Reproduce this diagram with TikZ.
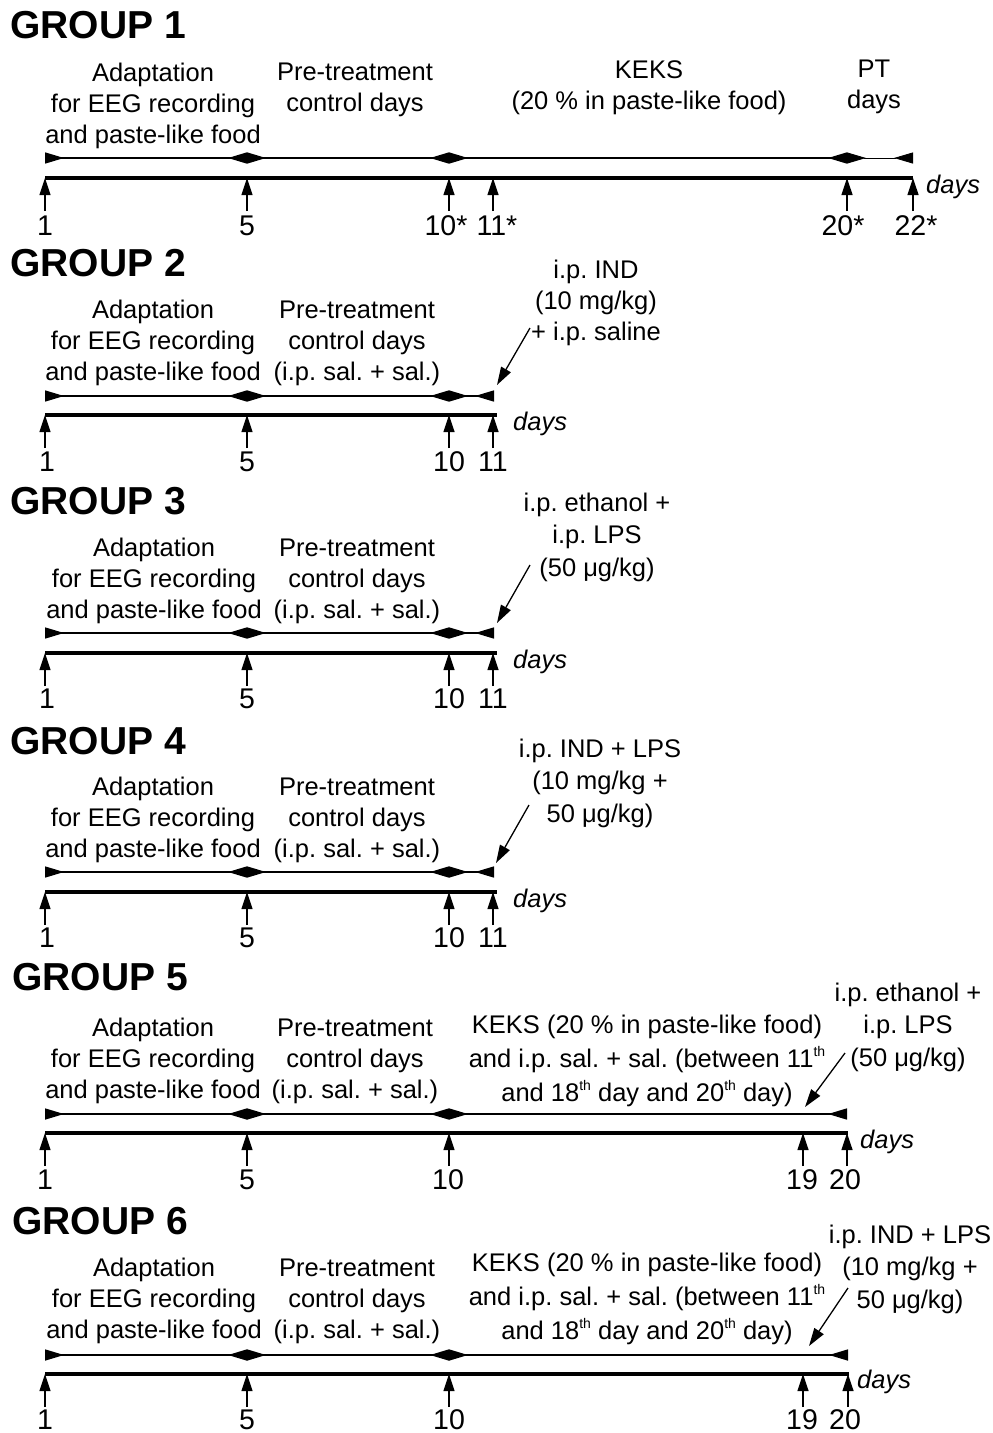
\documentclass[tikz,border=0pt]{standalone}
\usepackage{fontspec}
\setmainfont{Liberation Sans}
\usetikzlibrary{arrows.meta}
\newcommand\thsup{\raisebox{0.42em}{\fontsize{14}{14}\selectfont th}}
\frenchspacing
\begin{document}
\begin{tikzpicture}[x=1pt,y=-1pt,
  grp/.style={font=\fontsize{39}{40}\selectfont\bfseries, anchor=west, inner sep=0pt},
  txt/.style={font=\fontsize{25.5}{31}\selectfont, align=center, inner sep=0pt},
  txtb/.style={txt, font=\fontsize{25.5}{32.5}\selectfont},
  txtk/.style={txt, font=\fontsize{25.5}{34}\selectfont},
  daysl/.style={font=\fontsize{25.5}{31}\selectfont\itshape, anchor=west, inner sep=0pt},
  num/.style={font=\fontsize{28.5}{31}\selectfont, inner sep=0pt},
  timeline/.style={line width=3.6pt},
  period/.style={line width=1.5pt, {Triangle[reversed,length=19pt,width=11pt]}-{Triangle[reversed,length=19pt,width=11pt]}},
  tick/.style={line width=1.2pt, -{Triangle[length=17pt,width=11pt]}},
  annot/.style={line width=1.3pt, -{Triangle[length=18pt,width=11pt]}}
]
\useasboundingbox (0,0) rectangle (993,1433);

% ---------------- GROUP 1 ----------------
\node[grp] (g1) at (10,25) {GROUP 1};
\node[txt] (g1a) at (153,106) {Adaptation\\for EEG recording\\and paste-like food};
\node[txt] (g1p) at (355,90) {Pre-treatment\\control days};
\node[txt] (g1k) at (649,88) {KEKS\\(20 \% in paste-like food)};
\node[txt] (g1t) at (874,87) {PT\\days};
\coordinate (g1s1) at (45,158);
\coordinate (g1s5) at (247,158);
\coordinate (g1s10) at (449,158);
\coordinate (g1s20) at (847,158);
\coordinate (g1s22) at (913,158);
\draw[period] (g1s1) -- (g1s5);
\draw[period] (g1s5) -- (g1s10);
\draw[period] (g1s10) -- (g1s20);
\draw[period, line width=0.9pt] (g1s20) -- (g1s22);
\coordinate (g1L) at (45,178);
\coordinate (g1R) at (913,178);
\draw[timeline] (g1L) -- (g1R);
\foreach \x/\lab/\lx in {45/1/45, 247/5/247, 449/10*/446, 493/11*/497, 847/20*/843, 913/22*/916}{
  \coordinate (g1b\x) at (\x,211);
  \coordinate (g1u\x) at (\x,178);
  \draw[tick] (g1b\x) -- (g1u\x);
  \node[num] (g1n\x) at (\lx,226) {\lab};
}
\node[daysl] (g1d) at (926,187) {days};

% ---------------- GROUP 2 ----------------
\node[grp] (g2) at (10,263) {GROUP 2};
\node[txt] (g2a) at (153,343) {Adaptation\\for EEG recording\\and paste-like food};
\node[txt] (g2p) at (357,343) {Pre-treatment\\control days\\(i.p. sal. + sal.)};
\node[txt] (g2r) at (596,303) {i.p. IND\\(10 mg/kg)\\+ i.p. saline};
\coordinate (g2as) at (530,328);
\coordinate (g2ae) at (497,385);
\draw[annot] (g2as) -- (g2ae);
\coordinate (g2s1) at (45,396);
\coordinate (g2s5) at (247,396);
\coordinate (g2s10) at (449,396);
\coordinate (g2s11) at (494,396);
\draw[period] (g2s1) -- (g2s5);
\draw[period] (g2s5) -- (g2s10);
\draw[period] (g2s10) -- (g2s11);
\coordinate (g2L) at (45,415);
\coordinate (g2R) at (497,415);
\draw[timeline] (g2L) -- (g2R);
\foreach \x/\lab/\lx in {45/1/47, 247/5/247, 449/10/449, 493/11/493}{
  \coordinate (g2b\x) at (\x,448);
  \coordinate (g2u\x) at (\x,415);
  \draw[tick] (g2b\x) -- (g2u\x);
  \node[num] (g2n\x) at (\lx,462) {\lab};
}
\node[daysl] (g2d) at (513,424) {days};

% ---------------- GROUP 3 ----------------
\node[grp] (g3) at (10,501) {GROUP 3};
\node[txt] (g3a) at (154,581) {Adaptation\\for EEG recording\\and paste-like food};
\node[txt] (g3p) at (357,581) {Pre-treatment\\control days\\(i.p. sal. + sal.)};
\node[txtb] (g3r) at (597,537) {i.p. ethanol +\\i.p. LPS\\(50 μg/kg)};
\coordinate (g3as) at (530,565);
\coordinate (g3ae) at (497,623);
\draw[annot] (g3as) -- (g3ae);
\coordinate (g3s1) at (45,633);
\coordinate (g3s5) at (247,633);
\coordinate (g3s10) at (449,633);
\coordinate (g3s11) at (494,633);
\draw[period] (g3s1) -- (g3s5);
\draw[period] (g3s5) -- (g3s10);
\draw[period] (g3s10) -- (g3s11);
\coordinate (g3L) at (45,653);
\coordinate (g3R) at (497,653);
\draw[timeline] (g3L) -- (g3R);
\foreach \x/\lab/\lx in {45/1/47, 247/5/247, 449/10/449, 493/11/493}{
  \coordinate (g3b\x) at (\x,686);
  \coordinate (g3u\x) at (\x,653);
  \draw[tick] (g3b\x) -- (g3u\x);
  \node[num] (g3n\x) at (\lx,699) {\lab};
}
\node[daysl] (g3d) at (513,662) {days};

% ---------------- GROUP 4 ----------------
\node[grp] (g4) at (10,741) {GROUP 4};
\node[txt] (g4a) at (153,820) {Adaptation\\for EEG recording\\and paste-like food};
\node[txt] (g4p) at (357,820) {Pre-treatment\\control days\\(i.p. sal. + sal.)};
\node[txtb] (g4r) at (600,783) {i.p. IND + LPS\\(10 mg/kg +\\50 μg/kg)};
\coordinate (g4as) at (529,805);
\coordinate (g4ae) at (496,863);
\draw[annot] (g4as) -- (g4ae);
\coordinate (g4s1) at (45,872);
\coordinate (g4s5) at (247,872);
\coordinate (g4s10) at (449,872);
\coordinate (g4s11) at (494,872);
\draw[period] (g4s1) -- (g4s5);
\draw[period] (g4s5) -- (g4s10);
\draw[period] (g4s10) -- (g4s11);
\coordinate (g4L) at (45,892);
\coordinate (g4R) at (497,892);
\draw[timeline] (g4L) -- (g4R);
\foreach \x/\lab/\lx in {45/1/47, 247/5/247, 449/10/449, 493/11/493}{
  \coordinate (g4b\x) at (\x,925);
  \coordinate (g4u\x) at (\x,892);
  \draw[tick] (g4b\x) -- (g4u\x);
  \node[num] (g4n\x) at (\lx,938) {\lab};
}
\node[daysl] (g4d) at (513,901) {days};

% ---------------- GROUP 5 ----------------
\node[grp] (g5) at (12,977) {GROUP 5};
\node[txt] (g5a) at (153,1061) {Adaptation\\for EEG recording\\and paste-like food};
\node[txt] (g5p) at (355,1061) {Pre-treatment\\control days\\(i.p. sal. + sal.)};
\node[txtk] (g5k) at (647,1061) {KEKS (20 \% in paste-like food)\\and i.p. sal. + sal. (between 11\thsup\\and 18\thsup{} day and 20\thsup{} day)};
\node[txtb] (g5r) at (908,1027) {i.p. ethanol +\\i.p. LPS\\(50 μg/kg)};
\coordinate (g5as) at (845,1053);
\coordinate (g5ae) at (805,1107);
\draw[annot] (g5as) -- (g5ae);
\coordinate (g5s1) at (45,1114);
\coordinate (g5s5) at (247,1114);
\coordinate (g5s10) at (449,1114);
\coordinate (g5s20) at (847,1114);
\draw[period] (g5s1) -- (g5s5);
\draw[period] (g5s5) -- (g5s10);
\draw[period] (g5s10) -- (g5s20);
\coordinate (g5L) at (45,1133);
\coordinate (g5R) at (848,1133);
\draw[timeline] (g5L) -- (g5R);
\foreach \x/\lab/\lx in {45/1/45, 247/5/247, 449/10/448, 803/19/802, 847/20/845}{
  \coordinate (g5b\x) at (\x,1166);
  \coordinate (g5u\x) at (\x,1133);
  \draw[tick] (g5b\x) -- (g5u\x);
  \node[num] (g5n\x) at (\lx,1180) {\lab};
}
\node[daysl] (g5d) at (860,1142) {days};

% ---------------- GROUP 6 ----------------
\node[grp] (g6) at (12,1221) {GROUP 6};
\node[txt] (g6a) at (154,1301) {Adaptation\\for EEG recording\\and paste-like food};
\node[txt] (g6p) at (357,1301) {Pre-treatment\\control days\\(i.p. sal. + sal.)};
\node[txtk] (g6k) at (647,1299) {KEKS (20 \% in paste-like food)\\and i.p. sal. + sal. (between 11\thsup\\and 18\thsup{} day and 20\thsup{} day)};
\node[txtb] (g6r) at (910,1269) {i.p. IND + LPS\\(10 mg/kg +\\50 μg/kg)};
\coordinate (g6as) at (848,1288);
\coordinate (g6ae) at (809,1346);
\draw[annot] (g6as) -- (g6ae);
\coordinate (g6s1) at (45,1355);
\coordinate (g6s5) at (247,1355);
\coordinate (g6s10) at (449,1355);
\coordinate (g6s20) at (848,1355);
\draw[period] (g6s1) -- (g6s5);
\draw[period] (g6s5) -- (g6s10);
\draw[period] (g6s10) -- (g6s20);
\coordinate (g6L) at (45,1374);
\coordinate (g6R) at (849,1374);
\draw[timeline] (g6L) -- (g6R);
\foreach \x/\lab/\lx in {45/1/45, 247/5/247, 449/10/449, 803/19/802, 848/20/845}{
  \coordinate (g6b\x) at (\x,1407);
  \coordinate (g6u\x) at (\x,1374);
  \draw[tick] (g6b\x) -- (g6u\x);
  \node[num] (g6n\x) at (\lx,1420) {\lab};
}
\node[daysl] (g6d) at (857,1382) {days};
\end{tikzpicture}
\end{document}
